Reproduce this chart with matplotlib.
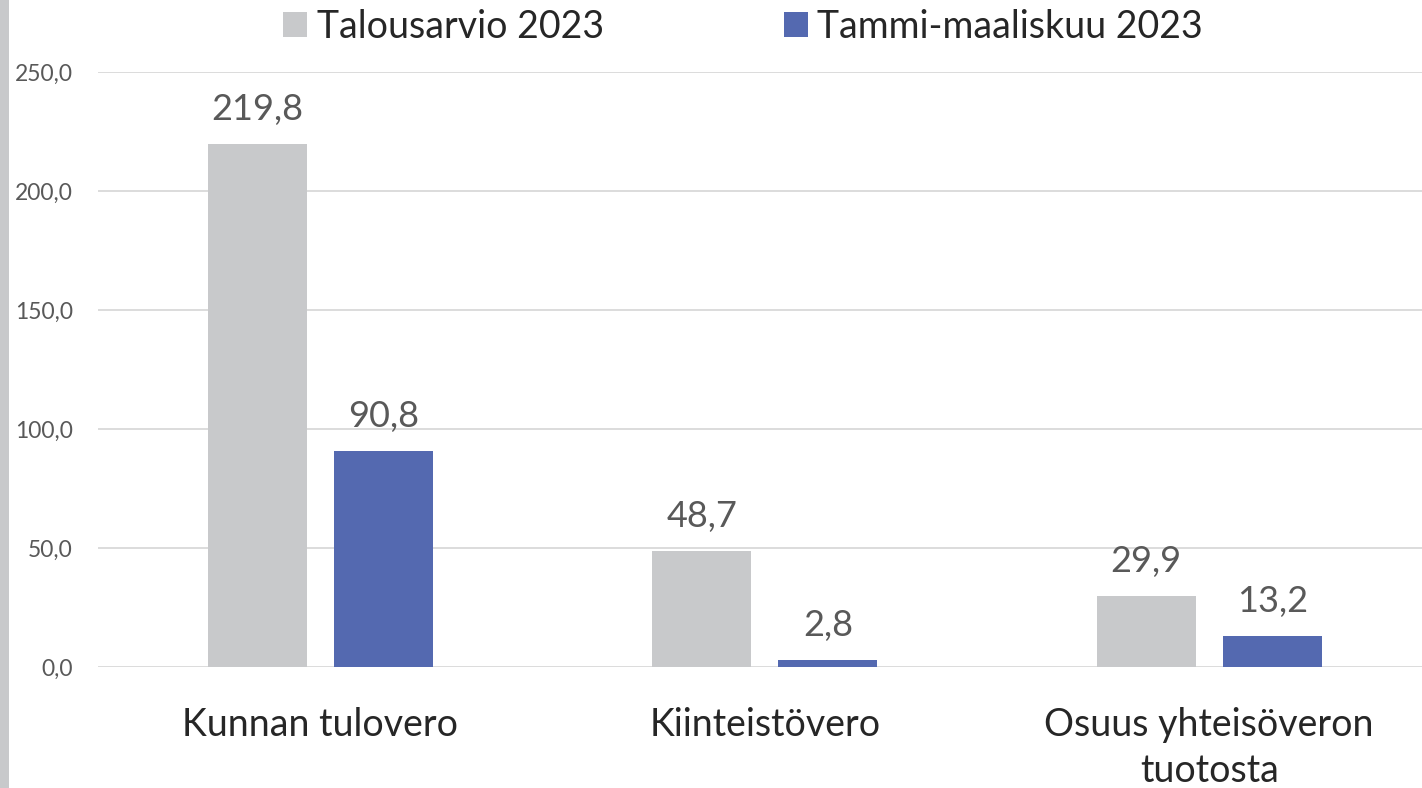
import matplotlib.pyplot as plt
import numpy as np
from matplotlib.patches import Rectangle

plt.rcParams["font.family"] = ["Lato", "DejaVu Sans"]

categories = ["Kunnan tulovero", "Kiinteistövero", "Osuus yhteisöveron\ntuotosta"]
series_names = ["Talousarvio 2023", "Tammi-maaliskuu 2023"]
budget = [219.8, 48.7, 29.9]
q1 = [90.8, 2.8, 13.2]
yticks = [0, 50, 100, 150, 200, 250]

GRAY = "#C8C9CB"
BLUE = "#5469B0"
TEXT = "#595959"

W, H = 1422, 788
fig = plt.figure(figsize=(W / 100, H / 100), dpi=100)

# left gray strip
fig.patches.append(Rectangle((0, 0), 9 / W, 1, transform=fig.transFigure,
                             facecolor=GRAY, edgecolor="none"))

ax = fig.add_axes([98 / W, 1 - 667 / H, 1 - 98 / W, (667 - 72) / H])

x = np.arange(len(categories))
bw = 0.223
off = 0.142
b1 = ax.bar(x - off, budget, bw, color=GRAY, label=series_names[0], zorder=2)
b2 = ax.bar(x + off, q1, bw, color=BLUE, label=series_names[1], zorder=2)

for bars in (b1, b2):
    for r in bars:
        v = r.get_height()
        ax.annotate(f"{v:.1f}".replace(".", ","),
                    (r.get_x() + r.get_width() / 2, v),
                    xytext=(0, 13), textcoords="offset points",
                    ha="center", va="bottom", fontsize=26, color=TEXT)

ax.set_xlim(-0.5, (W - 98) / 444.5 - 0.5)
ax.set_ylim(0, 250)
ax.set_yticks(yticks)
ax.set_yticklabels([f"{t:.1f}".replace(".", ",") for t in yticks])
ax.tick_params(axis="y", length=0, labelsize=16.5, labelcolor=TEXT, pad=18)
ax.set_xticks(x)
ax.set_xticklabels(categories, fontsize=27, color="#262626", linespacing=1.33)
ax.tick_params(axis="x", length=0, pad=29)
ax.grid(axis="y", color="#D9D9D9", linewidth=1.3, zorder=0)
for s in ax.spines.values():
    s.set_visible(False)

fig.legend(handles=[b1, b2], labels=series_names, loc="center",
           bbox_to_anchor=(743 / W, 1 - 27 / H), ncol=2, frameon=False,
           fontsize=27, labelcolor="#262626", handlelength=0.65,
           handleheight=0.65, handletextpad=0.25, columnspacing=4.8)

fig.savefig("out.png", dpi=100)
